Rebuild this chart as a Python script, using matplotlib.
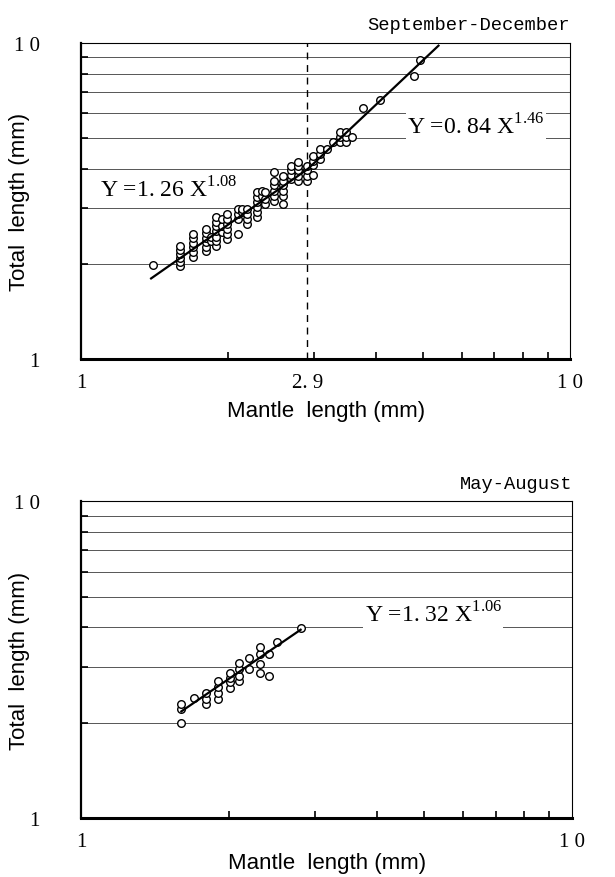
import numpy as np
import matplotlib
matplotlib.use("Agg")
from matplotlib import pyplot as plt
from matplotlib.ticker import FixedLocator, FixedFormatter, NullFormatter

plt.rcParams['mathtext.fontset'] = 'custom'
plt.rcParams['mathtext.rm'] = 'Liberation Serif'

# September-December (mantle length, total length), read column by column
sep_x = ([1.40] + [1.59]*6 + [1.69]*6 + [1.80]*6 + [1.84]*2 + [1.89]*7 + [1.94]*3
         + [1.99]*6 + [2.09]*4 + [2.13]*2 + [2.18]*4 + [2.29]*6 + [2.34]*2 + [2.38]*3
         + [2.48]*6 + [2.59]*6 + [2.68]*4 + [2.77]*5 + [2.89]*4 + [2.98]*4 + [3.08]*3
         + [3.18, 3.28] + [3.39]*3 + [3.48]*3 + [3.58, 3.77, 4.08, 4.79, 4.94])
sep_y = ([1.99,
          1.97, 2.02, 2.08, 2.15, 2.22, 2.28,
          2.10, 2.18, 2.26, 2.33, 2.42, 2.49,
          2.19, 2.26, 2.34, 2.42, 2.50, 2.58,
          2.36, 2.43,
          2.28, 2.36, 2.44, 2.54, 2.63, 2.72, 2.81,
          2.52, 2.64, 2.77,
          2.40, 2.49, 2.58, 2.67, 2.77, 2.88,
          2.49, 2.77, 2.88, 2.98,
          2.91, 2.98,
          2.67, 2.77, 2.88, 2.98,
          2.81, 2.91, 3.02, 3.13, 3.25, 3.37,
          3.29, 3.41,
          3.09, 3.21, 3.37,
          3.17, 3.29, 3.41, 3.54, 3.67, 3.90,
          3.09, 3.29, 3.41, 3.54, 3.67, 3.80,
          3.71, 3.83, 3.96, 4.09,
          3.67, 3.80, 3.95, 4.09, 4.21,
          3.67, 3.80, 3.95, 4.09,
          3.82, 4.11, 4.24, 4.40,
          4.30, 4.45, 4.62,
          4.62, 4.85,
          4.85, 5.03, 5.22,
          4.85, 5.03, 5.22,
          5.03, 6.23, 6.62, 7.83, 8.80])

# May-August
may_x = ([1.60]*3 + [1.70] + [1.80]*3 + [1.90]*4 + [2.01]*4 + [2.10]*4 + [2.20]*2
         + [2.31]*4 + [2.41]*2 + [2.51, 2.80])
may_y = [2.00, 2.21, 2.29,
         2.40,
         2.29, 2.38, 2.49,
         2.38, 2.49, 2.60, 2.70,
         2.58, 2.68, 2.77, 2.88,
         2.70, 2.80, 2.96, 3.08,
         2.96, 3.19,
         2.88, 3.06, 3.29, 3.48,
         2.80, 3.29,
         3.59, 3.97]

# fitted allometric lines  Y = a X^b
break_x = 2.9
fit1 = (1.26, 1.08, 1.39, break_x)
fit2 = (0.84, 1.46, break_x, 5.38)
fit3 = (1.32, 1.06, 1.60, 2.80)


def setup_axes(ax, xticks, xlabels, xpad):
    ax.set_xscale('log')
    ax.set_yscale('log')
    ax.set_xlim(1, 10)
    ax.set_ylim(1, 10)
    for s in ['top', 'right']:
        ax.spines[s].set_linewidth(0.8)
    ax.spines['left'].set_linewidth(1.6)
    ax.spines['bottom'].set_linewidth(2.2)
    for yv in range(2, 10):
        ax.axhline(yv, color='#555555', lw=0.7, zorder=0)
    ax.xaxis.set_major_locator(FixedLocator(xticks))
    ax.xaxis.set_major_formatter(FixedFormatter(xlabels))
    ax.xaxis.set_minor_locator(FixedLocator(range(2, 10)))
    ax.xaxis.set_minor_formatter(NullFormatter())
    ax.yaxis.set_major_locator(FixedLocator([1, 10]))
    ax.yaxis.set_major_formatter(FixedFormatter(['1', '1 0']))
    ax.yaxis.set_minor_locator(FixedLocator(range(2, 10)))
    ax.yaxis.set_minor_formatter(NullFormatter())
    ax.tick_params(axis='both', which='major', length=0, labelsize=15,
                   labelfontfamily='Liberation Serif')
    ax.tick_params(axis='x', which='major', pad=10)
    ax.tick_params(axis='y', which='major', pad=30)
    ax.tick_params(axis='both', which='minor', direction='in', length=5, width=1.2)
    ax.set_xlabel('Mantle  length (mm)', fontsize=16, family='Liberation Sans', labelpad=xpad)
    ax.set_ylabel('Total  length (mm)', fontsize=16, family='Liberation Sans')
    ax.yaxis.set_label_coords(-0.105, 0.5)


def draw_fit(ax, fit):
    a, b, x0, x1 = fit
    xs = np.linspace(x0, x1, 50)
    ax.plot(xs, a * xs ** b, color='black', lw=1.6, zorder=3)


fig = plt.figure(figsize=(6.15, 8.78), dpi=100)
ax1 = fig.add_axes([0.132, 0.590, 0.795, 0.360])
ax2 = fig.add_axes([0.132, 0.067, 0.798, 0.361])

setup_axes(ax1, [1, break_x, 10], ['1', '2. 9', '1 0'], 6)
ax1.axvline(break_x, color='black', lw=1.0, ls=(0, (5, 4)), zorder=1)
ax1.scatter(sep_x, sep_y, s=30, facecolors='white', edgecolors='black', linewidths=1.0, zorder=2)
draw_fit(ax1, fit1)
draw_fit(ax1, fit2)
ax1.text(0.039, 0.538, r'Y =1. 26 X$^{\mathrm{1.08}}$', transform=ax1.transAxes,
         fontsize=17, family='Liberation Serif', va='center', ha='left',
         bbox=dict(facecolor='white', edgecolor='none', pad=1))
ax1.text(0.667, 0.737, r'Y =0. 84 X$^{\mathrm{1.46}}$', transform=ax1.transAxes,
         fontsize=17, family='Liberation Serif', va='center', ha='left',
         bbox=dict(facecolor='white', edgecolor='none', pad=1))
ax1.text(1.0, 1.03, 'September-December', transform=ax1.transAxes,
         fontsize=13.5, family='Liberation Mono', ha='right', va='bottom')

setup_axes(ax2, [1, 10], ['1', '1 0'], 1)
ax2.scatter(may_x, may_y, s=30, facecolors='white', edgecolors='black', linewidths=1.0, zorder=2)
draw_fit(ax2, fit3)
ax2.text(0.578, 0.644, r'Y =1. 32 X$^{\mathrm{1.06}}$', transform=ax2.transAxes,
         fontsize=17, family='Liberation Serif', va='center', ha='left',
         bbox=dict(facecolor='white', edgecolor='none', pad=1))
ax2.text(1.0, 1.03, 'May-August', transform=ax2.transAxes,
         fontsize=13.5, family='Liberation Mono', ha='right', va='bottom')

fig.savefig('out.png', dpi=100)
